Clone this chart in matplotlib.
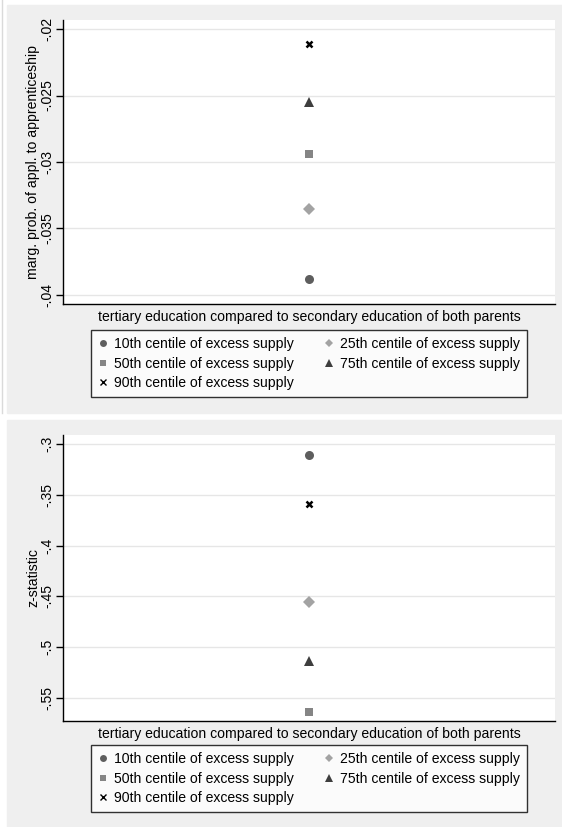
import numpy as np
import matplotlib
matplotlib.use('Agg')
import matplotlib.pyplot as plt
from matplotlib.patches import Rectangle
from matplotlib.lines import Line2D
from matplotlib.ticker import FuncFormatter

matplotlib.rcParams['font.family'] = 'Liberation Sans'
matplotlib.rcParams['font.size'] = 10.1

# values
centiles = ['10th', '25th', '50th', '75th', '90th']
marg_prob = [-0.0388, -0.0335, -0.0294, -0.0255, -0.0211]
z_stat = [-0.311, -0.455, -0.564, -0.514, -0.3595]
marg_ticks = [-0.04, -0.035, -0.03, -0.025, -0.02]
z_ticks = [-0.55, -0.5, -0.45, -0.4, -0.35, -0.3]

xlab = 'tertiary education compared to secondary education of both parents'

styles = {
    '10th': dict(marker='o', color='#5e5e5e', ms=6.5, lms=5.0),
    '25th': dict(marker='D', color='#a3a3a3', ms=6.0, lms=4.5),
    '50th': dict(marker='s', color='#858585', ms=6.2, lms=5),
    '75th': dict(marker='^', color='#3e3e3e', ms=7.0, lms=5.5),
    '90th': dict(marker='x', color='#000000', ms=4.6, lms=4),
}

W, H = 562, 827
fig = plt.figure(figsize=(W / 100, H / 100), dpi=100)


def px_box(x0, y0, x1, y1):
    # pixel box (from top-left) -> figure fraction rect
    return [x0 / W, 1 - y1 / H, (x1 - x0) / W, (y1 - y0) / H]


# grey panels
for y0, y1 in [(5, 413), (420, 827)]:
    fig.patches.append(Rectangle((7 / W, 1 - y1 / H), (W - 7) / W, (y1 - y0) / H,
                                 transform=fig.transFigure, color='#efefef', zorder=-10))
fig.lines.append(Line2D([2 / W, 2 / W], [1 - 413 / H, 1], transform=fig.transFigure,
                        color='#dadada', lw=1, zorder=-10))


def fmt(v, pos):
    s = '%g' % v
    return s.replace('0.', '.')


def make_panel(rect, values, ticks, ylim, ylabel, leg_top):
    ax = fig.add_axes(rect)
    ax.set_facecolor('white')
    handles = {}
    for c, v in zip(centiles, values):
        st = styles[c]
        mew = 1.8 if st['marker'] == 'x' else 0
        ax.plot([1], [v], linestyle='none', marker=st['marker'], color=st['color'],
                ms=st['ms'], mew=mew, zorder=3)
        handles[c] = Line2D([], [], linestyle='none', marker=st['marker'], color=st['color'],
                            ms=st['lms'], mew=1.0 if st['marker'] == 'x' else 0,
                            label=c + ' centile of excess supply')
    ax.set_xlim(0, 2)
    ax.set_ylim(*ylim)
    ax.set_xticks([])
    ax.set_yticks(ticks)
    ax.yaxis.set_major_formatter(FuncFormatter(fmt))
    ax.grid(axis='y', color='#e6e6e6', lw=1.0)
    ax.set_axisbelow(True)
    for s in ['top', 'right']:
        ax.spines[s].set_visible(False)
    for s in ['left', 'bottom']:
        ax.spines[s].set_linewidth(1.0)
        ax.spines[s].set_color('black')
    ax.tick_params(axis='y', length=5, width=1, pad=1.5)
    plt.setp(ax.get_yticklabels(), rotation=90, va='center')
    ax.set_ylabel(ylabel, labelpad=0)
    ax.set_xlabel(xlab, labelpad=4)

    order = ['10th', '50th', '90th', '25th', '75th']
    leg = ax.legend([handles[c] for c in order], [handles[c].get_label() for c in order],
                    ncol=2, loc='upper center', bbox_to_anchor=(309 / W, 1 - leg_top / H),
                    bbox_transform=fig.transFigure, frameon=True, fancybox=False,
                    edgecolor='black', handlelength=0.6, handletextpad=0.5,
                    columnspacing=2.2, labelspacing=0.4, borderpad=0.5,
                    borderaxespad=0)
    leg.get_frame().set_linewidth(1.0)
    leg.get_frame().set_facecolor('white')
    return ax


make_panel(px_box(63, 20, 555, 304), marg_prob, marg_ticks, (-0.04068, -0.01932),
           'marg. prob. of appl. to apprenticeship', 330)
make_panel(px_box(63, 435, 555, 721), z_stat, z_ticks, (-0.5726, -0.2911),
           'z-statistic', 745)

fig.savefig('out.png', dpi=100, facecolor='white')
